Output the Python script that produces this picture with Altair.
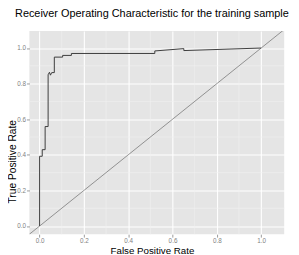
import altair as alt
import pandas as pd

# ROC curve
fpr = [0.0, 0.0, 0.012, 0.012, 0.025, 0.025, 0.0385, 0.0385, 0.0446, 0.049,
       0.0547, 0.0665, 0.0665, 0.104, 0.104, 0.1435, 0.1435, 0.52, 0.52,
       0.651, 0.651, 1.0]
tpr = [0.0, 0.392, 0.392, 0.429, 0.429, 0.559, 0.559, 0.85, 0.864, 0.8475,
       0.862, 0.862, 0.949, 0.949, 0.9586, 0.9586, 0.9695, 0.9695, 0.9837,
       0.9967, 0.9858, 1.0]

# reference diagonal (extends past the panel, clipped)
diag_x = [-0.2, 1.3]
diag_y = [-0.2, 1.3]

major_ticks = [0.0, 0.2, 0.4, 0.6, 0.8, 1.0]
minor_ticks = [0.1, 0.3, 0.5, 0.7, 0.9]

x_domain = [-0.046, 1.104]
y_domain = [-0.046, 1.096]

roc = pd.DataFrame({"fpr": fpr, "tpr": tpr, "order": list(range(len(fpr)))})
diag = pd.DataFrame({"fpr": diag_x, "tpr": diag_y})
minor = pd.DataFrame({"v": minor_ticks})

xs = alt.Scale(domain=x_domain, nice=False, zero=False)
ys = alt.Scale(domain=y_domain, nice=False, zero=False)

x_axis = alt.Axis(values=major_ticks, format=".1f", title="False Positive Rate",
                  titleX=126, titleY=20, titleBaseline="alphabetic",
                  titleAnchor="middle", titleFontSize=10)
y_axis = alt.Axis(values=major_ticks, format=".1f", title="True Positive Rate",
                  titleX=-17, titleY=134, titleBaseline="middle",
                  titleAnchor="middle", titleFontSize=10.5)

minor_x = alt.Chart(minor).mark_rule(color="#F2F2F2", strokeWidth=0.6).encode(
    x=alt.X("v:Q", scale=xs, axis=x_axis)
)
minor_y = alt.Chart(minor).mark_rule(color="#F2F2F2", strokeWidth=0.6).encode(
    y=alt.Y("v:Q", scale=ys, axis=y_axis)
)

diag_line = alt.Chart(diag).mark_line(color="#555555", strokeWidth=0.6, clip=True).encode(
    x=alt.X("fpr:Q", scale=xs, axis=x_axis),
    y=alt.Y("tpr:Q", scale=ys, axis=y_axis),
)

roc_line = alt.Chart(roc).mark_line(color="#3a3a3a", strokeWidth=1, clip=True).encode(
    x=alt.X("fpr:Q", scale=xs, axis=x_axis),
    y=alt.Y("tpr:Q", scale=ys, axis=y_axis),
    order="order:Q",
)

chart = alt.layer(minor_x, minor_y, diag_line, roc_line).properties(
    width=262,
    height=209,
    title=alt.TitleParams(
        "Receiver Operating Characteristic for the training sample",
        fontSize=11.2, font="Liberation Sans", fontWeight="normal",
        color="#000000", anchor="middle", baseline="alphabetic",
        offset=3, dx=-5,
    ),
    autosize=alt.AutoSizeParams(type="none"),
    padding={"left": 22, "top": 20, "right": 7, "bottom": 26},
).configure_view(
    fill="#E5E5E5", stroke=None
).configure_axis(
    grid=True, gridColor="#FFFFFF", gridWidth=1.1,
    domain=False,
    labelFont="Liberation Sans", labelFontSize=6.5, labelColor="#7F7F7F",
    tickColor="#7F7F7F", tickSize=3, tickWidth=0.8, labelPadding=1,
    titleFont="Liberation Sans", titleFontWeight="normal",
    titleColor="#000000",
)

chart.save("out.html", embed_options={"renderer": "svg", "actions": False})
